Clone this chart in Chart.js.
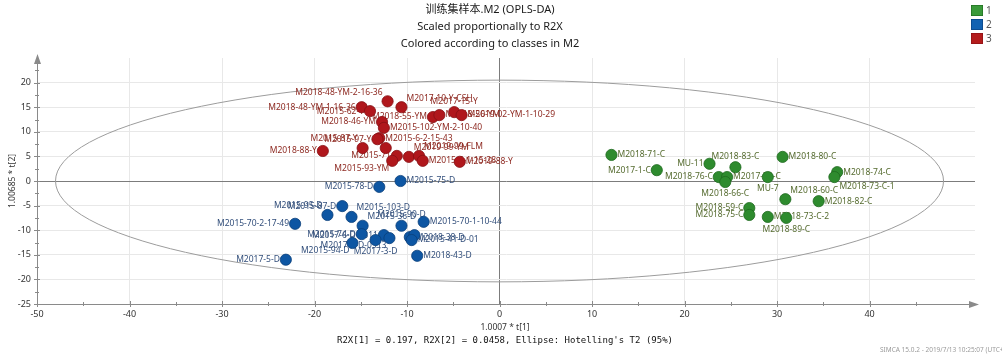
<!DOCTYPE html>
<html><head><meta charset="utf-8">
<script src="https://cdn.jsdelivr.net/npm/chart.js@4"></script>
<style>html,body{margin:0;padding:0;background:#fff}#wrap{width:1002px;height:358px}</style>
</head><body><div id="wrap"><canvas id="c" width="1002" height="358"></canvas></div>
<script>
// ---- data ----
const classNames = ['1', '2', '3'];
const titleLines = ['训练集样本.M2 (OPLS-DA)', 'Scaled proportionally to R2X', 'Colored according to classes in M2'];
const xAxisTitle = '1.0007 * t[1]';
const yAxisTitle = '1.00685 * t[2]';
const footerText = "R2X[1] = 0.197, R2X[2] = 0.0458, Ellipse: Hotelling's T2 (95%)";
const creditText = 'SIMCA 15.0.2 - 2019/7/13 10:25:07 (UTC+8)';
const xTickValues = [-50, -40, -30, -20, -10, 0, 10, 20, 30, 40];
const yTickValues = [-25, -20, -15, -10, -5, 0, 5, 10, 15, 20];
const ellipseA = 48, ellipseB = 20.5;

const names1 = ['M2018-71-C','M2017-1-C','MU-11','M2018-83-C','M2018-76-C','M2017-72-C','M2018-66-C','MU-7','M2018-80-C','M2018-74-C','M2018-73-C-1','M2018-60-C','M2018-82-C','M2018-59-C','M2018-75-C','M2018-73-C-2','M2018-89-C'];
const x1 = [12.1,17.0,22.7,25.5,23.7,24.6,24.4,29.0,30.6,36.5,36.2,30.9,34.5,27.0,27.0,29.0,31.0];
const y1 = [5.3,2.2,3.5,2.8,0.8,0.8,-0.2,0.8,4.9,1.8,0.8,-3.7,-4.1,-5.5,-6.9,-7.3,-7.5];
const align1 = ['r','l','l','t','l','r','b','b','r','r','br','tr','r','l','l','r','b'];

const names2 = ['M2015-75-D','M2015-78-D','M2015-87-D','M2015-95-D','M2015-103-D','M2015-36-D','M2015-90-D','M2015-70-1-10-44','M2015-70-2-17-49','M2017-5-D','M2015-74-D','M2017-6-D-0311','M2017-7-D-0313','M2015-94-D','M2017-3-D','M2018-38-D','','M2015-41-D-01','M2018-43-D'];
const x2 = [-10.7,-13.0,-17.0,-18.6,-16.0,-14.8,-10.6,-8.2,-22.1,-23.1,-14.9,-12.5,-11.9,-15.9,-13.4,-9.7,-9.2,-9.5,-8.9];
const y2 = [0.0,-1.2,-5.1,-6.9,-7.3,-9.1,-9.1,-8.3,-8.7,-16.0,-10.8,-11.0,-11.6,-12.6,-12.0,-11.4,-11.0,-12.0,-15.2];
const align2 = ['r','l','l','tl','tr','tr','t','r','l','l','l','l','bl','bl','b','r','','r','r'];

const names3 = ['M2018-48-YM-2-16-36','M2018-48-YM-1-16-36','M2015-62-Y','M2017-10-Y-CSH','M2017-15-Y','M2018-55-YM','M2018-56-YM','M2019-02-YM-1-10-29','M2018-46-YM','M2015-102-YM-2-10-40','M2015-6-2-15-43','M2015-97-Y','M2015-87-Y','','M2018-88-Y','M2015-71','M2015-93-YM','M2019-99-YM','M2019-99-FLM','M2015-6-1-15-28','M2019-88-Y'];
const x3 = [-12.1,-14.9,-14.0,-10.6,-4.9,-7.2,-6.5,-4.1,-12.7,-12.5,-13.0,-13.2,-14.8,-12.3,-19.1,-11.1,-11.6,-9.8,-8.7,-8.3,-4.3];
const y3 = [16.2,15.0,14.2,15.0,14.0,13.0,13.4,13.4,12.0,10.8,8.7,8.5,6.7,6.7,6.1,5.1,4.1,4.9,5.1,4.1,3.9];
const align3 = ['tl','l','l','tr','t','l','r','r','l','r','r','l','tl','','l','l','bl','tr','tr','r','r'];

// ---- styles ----
const fillColors = ['#2e8b2e', '#0d56a3', '#b0171c'];
const borderColors = ['#1f6a1f', '#0a3f7a', '#861014'];
const labelColors = ['#556b2f', '#34507c', '#8e2a22'];
const legendFill = ['#3a9a3a', '#1262b2', '#b41c1c'];
const FONT = '"Noto Sans", "Noto Sans CJK SC", sans-serif';

const toPts = (xs, ys) => xs.map((v, i) => ({x: v, y: ys[i]}));
const datasets = [
  {label: classNames[0], data: toPts(x1, y1), names: names1, aligns: align1},
  {label: classNames[1], data: toPts(x2, y2), names: names2, aligns: align2},
  {label: classNames[2], data: toPts(x3, y3), names: names3, aligns: align3}
].map((d, i) => Object.assign(d, {
  backgroundColor: fillColors[i], borderColor: borderColors[i], borderWidth: 0.8,
  pointRadius: 5.6, pointHoverRadius: 5.6, labelColor: labelColors[i]
}));

const offsets = {
  r: [6, 0, 'left'], l: [-6, 0, 'right'], t: [0, -11, 'center'], b: [0, 12, 'center'],
  tr: [5, -9, 'left'], tl: [-5, -9, 'right'], br: [5, 10, 'left'], bl: [-3, 8, 'right']
};

const decor = {
  id: 'decor',
  beforeDatasetsDraw(chart) {
    const {ctx, scales: {x, y}} = chart;
    const cx = x.getPixelForValue(0), cy = y.getPixelForValue(0);
    const rx = x.getPixelForValue(ellipseA) - cx, ry = cy - y.getPixelForValue(ellipseB);
    ctx.save();
    ctx.strokeStyle = '#9c9c9c'; ctx.lineWidth = 1;
    ctx.beginPath(); ctx.ellipse(cx, cy, rx, ry, 0, 0, Math.PI * 2); ctx.stroke();
    ctx.font = '8.5px ' + FONT; ctx.textBaseline = 'middle';
    chart.data.datasets.forEach((ds, di) => {
      const meta = chart.getDatasetMeta(di);
      ctx.fillStyle = ds.labelColor;
      meta.data.forEach((el, i) => {
        const name = ds.names[i]; const o = offsets[ds.aligns[i]];
        if (!name || !o) return;
        ctx.textAlign = o[2];
        ctx.fillText(name, el.x + o[0], el.y + o[1]);
      });
    });
    ctx.restore();
  },
  afterDraw(chart) {
    const {ctx, chartArea: ca, scales: {x, y}} = chart;
    ctx.save();
    ctx.strokeStyle = '#8a8a8a'; ctx.lineWidth = 1;
    ctx.beginPath();
    xTickValues.forEach(v => {
      const px = Math.round(x.getPixelForValue(v)) + 0.5;
      ctx.moveTo(px, ca.bottom - 3); ctx.lineTo(px, ca.bottom + 3);
      const pm = Math.round(x.getPixelForValue(v + 5)) + 0.5;
      ctx.moveTo(pm, ca.bottom - 2); ctx.lineTo(pm, ca.bottom + 2);
    });
    yTickValues.forEach(v => {
      const py = Math.round(y.getPixelForValue(v)) + 0.5;
      ctx.moveTo(ca.left - 3, py); ctx.lineTo(ca.left + 3, py);
      const pm = Math.round(y.getPixelForValue(v + 2.5)) + 0.5;
      ctx.moveTo(ca.left - 2, pm); ctx.lineTo(ca.left + 2, pm);
    });
    ctx.stroke();
    ctx.fillStyle = '#8a8a8a';
    ctx.beginPath();
    ctx.moveTo(ca.right + 4, ca.bottom + 0.5); ctx.lineTo(ca.right - 6, ca.bottom - 3); ctx.lineTo(ca.right - 6, ca.bottom + 4); ctx.closePath();
    ctx.moveTo(ca.left + 0.5, ca.top - 4); ctx.lineTo(ca.left - 3, ca.top + 6); ctx.lineTo(ca.left + 4, ca.top + 6); ctx.closePath();
    ctx.fill();
    ctx.fillStyle = '#1a1a1a'; ctx.textAlign = 'center'; ctx.textBaseline = 'middle';
    ctx.font = '11px ' + FONT;
    titleLines.forEach((t, i) => ctx.fillText(t, 490, 10 + i * 17));
    ctx.fillStyle = '#333'; ctx.font = '8.5px ' + FONT;
    ctx.fillText(xAxisTitle, 505, 328);
    ctx.save(); ctx.translate(13, 181); ctx.rotate(-Math.PI / 2); ctx.fillText(yAxisTitle, 0, 0); ctx.restore();
    ctx.fillStyle = '#111'; ctx.font = '9px "DejaVu Sans Mono", monospace';
    ctx.fillText(footerText, 505, 341);
    ctx.fillStyle = '#9a9a9a'; ctx.font = '6.5px ' + FONT; ctx.textAlign = 'left';
    ctx.fillText(creditText, 880, 350);
    ctx.font = '10px ' + FONT; ctx.textBaseline = 'middle';
    classNames.forEach((n, i) => {
      const yy = 5 + i * 14;
      ctx.fillStyle = legendFill[i]; ctx.fillRect(971, yy, 12, 11);
      ctx.strokeStyle = borderColors[i]; ctx.lineWidth = 0.6; ctx.strokeRect(971.3, yy + 0.3, 11.4, 10.4);
      ctx.fillStyle = '#555'; ctx.fillText(n, 986, yy + 6);
    });
    ctx.restore();
  }
};

const gridColor = c => (c.tick && c.tick.value === 0) ? '#7c7c7c' : '#e8e8e8';

new Chart(document.getElementById('c'), {
  type: 'scatter',
  data: {datasets},
  options: {
    responsive: false, animation: false, devicePixelRatio: 1,
    layout: {padding: {top: 58, right: 27, left: 0, bottom: 0}},
    plugins: {legend: {display: false}, tooltip: {enabled: false}, title: {display: false}},
    scales: {
      x: {
        type: 'linear', min: -50, max: 51.4,
        afterBuildTicks: s => { s.ticks = xTickValues.map(v => ({value: v})); },
        afterFit: s => { s.height = 54; },
        ticks: {padding: 5, color: '#333', font: {size: 9, family: FONT}, maxRotation: 0, autoSkip: false},
        grid: {color: gridColor, drawTicks: false, lineWidth: 1},
        border: {display: true, color: '#8a8a8a'}
      },
      y: {
        type: 'linear', min: -25, max: 25,
        afterBuildTicks: s => { s.ticks = yTickValues.map(v => ({value: v})); },
        afterFit: s => { s.width = 37; },
        ticks: {padding: 6, color: '#333', font: {size: 9, family: FONT}, autoSkip: false},
        grid: {color: gridColor, drawTicks: false, lineWidth: 1},
        border: {display: true, color: '#8a8a8a'}
      }
    }
  },
  plugins: [decor]
});
</script>
</body></html>
